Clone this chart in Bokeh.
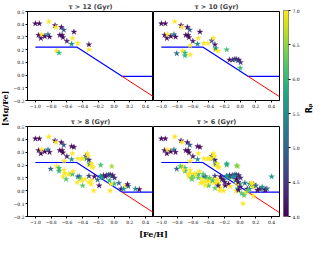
import numpy as np
from bokeh.plotting import figure
from bokeh.layouts import row, column
from bokeh.models import (ColumnDataSource, FixedTicker, CustomJSTickFormatter, Range1d,
                          LinearColorMapper)
from bokeh.palettes import Viridis256
from bokeh.transform import linear_cmap
from bokeh.embed import file_html
from bokeh.resources import INLINE
from bokeh.core.properties import value

# ---------------- data ----------------
# stars with age > 12 Gyr
feh_12 = [-1.00, -0.95, -0.96, -0.93, -0.92, -0.88, -0.84, -0.82, -0.83, -0.75, -0.74, -0.67, -0.64,
          -0.69, -0.66, -0.65, -0.60, -0.51, -0.53, -0.54, -0.46, -0.32, -0.32, -0.73, -0.70]
mg_12 = [0.405, 0.405, 0.314, 0.29, 0.32, 0.305, 0.32, 0.30, 0.42, 0.39, 0.376, 0.376, 0.356,
         0.314, 0.314, 0.296, 0.267, 0.34, 0.29, 0.244, 0.25, 0.24, 0.20, 0.19, 0.175]
rp_12 = [4.1, 4.1, 4.1, 4.1, 7.0, 4.1, 5.3, 4.1, 7.0, 4.1, 7.0, 4.1, 4.9,
         4.1, 4.1, 4.1, 4.2, 4.1, 7.0, 5.5, 7.0, 4.2, 7.0, 7.0, 6.0]

# stars with 10 < age <= 12 Gyr
feh_10 = [-0.635, -0.41, -0.36, -0.34, -0.31, -0.28, -0.17, -0.805, -0.70, -0.635, -0.135, -0.095,
          -0.07, -0.05, -0.03, -0.017, 0.006, 0.0]
mg_10 = [0.232, 0.25, 0.27, 0.29, 0.21, 0.19, 0.20, 0.17, 0.153, 0.16, 0.12, 0.12,
         0.125, 0.125, 0.113, 0.12, 0.10, 0.055]
rp_10 = [7.0, 7.0, 4.7, 7.0, 5.4, 7.0, 6.1, 5.0, 6.0, 7.0, 4.2, 4.3,
         5.0, 4.2, 5.5, 4.3, 4.4, 6.0]

# stars with 8 < age <= 10 Gyr
feh_8 = [-0.54, -0.65, -0.63, -0.61, -0.58, -0.56, -0.53, -0.46, -0.44, -0.43, -0.47, -0.41, -0.40,
         -0.37, -0.32, -0.29, -0.29, -0.26, -0.32, -0.25, -0.21, -0.19, -0.17, -0.15, -0.11, -0.04,
         -0.05, -0.03, 0.06, 0.09, 0.12, 0.15, 0.18, 0.17, 0.27, 0.32, -0.35, -0.33, -0.40, -0.29,
         -0.27, -0.06, -0.52]
mg_8 = [0.345, 0.11, 0.135, 0.09, 0.13, 0.13, 0.13, 0.11, 0.11, 0.095, 0.065, 0.08, 0.04,
        0.09, 0.065, 0.08, 0.05, 0.0, 0.115, 0.11, 0.085, 0.04, 0.115, 0.10, 0.11, 0.053,
        0.0, 0.19, 0.06, 0.015, 0.015, 0.04, 0.035, 0.05, 0.015, 0.01, 0.25, 0.27, 0.25, 0.21,
        0.18, 0.08, 0.15]
rp_8 = [4.1, 7.0, 7.0, 6.2, 7.0, 7.0, 6.0, 5.0, 5.0, 6.2, 7.0, 7.0, 6.2,
        7.0, 7.0, 7.0, 7.0, 7.0, 4.6, 4.1, 5.0, 4.1, 5.5, 5.6, 4.2, 7.0,
        7.0, 6.6, 5.0, 4.2, 5.5, 7.0, 5.2, 4.1, 5.5, 4.1, 5.2, 7.0, 7.0, 7.0,
        7.0, 6.0, 7.0]

# stars with 6 < age <= 8 Gyr
feh_6 = [0.40, 0.037, -0.045, -0.17, -0.76, -0.72, -0.59, -0.57, -0.53, -0.49, -0.47, -0.43, -0.39,
         -0.37, -0.35, -0.30, -0.27, -0.25, -0.28, -0.23, -0.195, -0.17, -0.146, -0.126, -0.10,
         -0.065, -0.045, -0.024, -0.03, -0.02, 0.0, 0.02, 0.05, 0.08, 0.12, 0.14, 0.16, 0.18, 0.20,
         0.22, 0.25, 0.28, 0.32, 0.34, 0.17, -0.37, -0.33, -0.66, -0.62, -0.50, -0.44, -0.32,
         -0.21, 0.10]
mg_6 = [0.11, -0.10, 0.195, 0.21, 0.19, 0.165, 0.115, 0.125, 0.10, 0.09, 0.13, 0.07, 0.10,
        0.066, 0.08, 0.09, 0.06, 0.024, 0.04, 0.09, 0.066, 0.115, 0.053, 0.033, 0.11,
        0.115, 0.09, 0.066, 0.016, 0.005, 0.03, -0.02, -0.035, -0.01, 0.053, 0.06, 0.053, 0.03, 0.04,
        0.004, 0.015, 0.03, 0.004, 0.016, -0.04, 0.25, 0.27, 0.13, 0.10, 0.06, 0.04, 0.02,
        0.0, 0.0]
rp_6 = [5.6, 7.0, 6.4, 5.8, 6.2, 7.0, 6.2, 7.0, 6.2, 7.0, 6.2, 7.0, 6.2,
        7.0, 6.2, 7.0, 7.0, 7.0, 4.2, 4.1, 4.2, 5.5, 4.1, 7.0, 5.5,
        5.3, 4.1, 4.2, 5.6, 4.1, 4.2, 6.2, 6.2, 7.0, 5.6, 7.0, 7.0, 7.0, 5.0,
        4.1, 4.2, 5.5, 4.1, 5.0, 7.0, 7.0, 7.0, 7.0, 6.4, 7.0, 7.0, 6.3,
        7.0, 6.3]

# model lines
blue_feh = [-1.0, -0.475, 0.1, 0.5]
blue_mg = [0.22, 0.22, -0.01, -0.01]
red_feh = [0.1, 0.5]
red_mg = [-0.01, -0.17]

panel_titles = ["τ > 12 (Gyr)", "τ > 10 (Gyr)", "τ > 8 (Gyr)", "τ > 6 (Gyr)"]
x_ticks = [-1.0, -0.8, -0.6, -0.4, -0.2, 0.0, 0.2, 0.4]
y_ticks = [-0.2, -0.1, 0.0, 0.1, 0.2, 0.3, 0.4, 0.5]
rp_ticks = [4.0, 4.5, 5.0, 5.5, 6.0, 6.5, 7.0]
rp_low, rp_high = 4.0, 7.0
x_label = "[Fe/H]"
y_label = "[Mg/Fe]"
c_label = "Rₚ"

# ---------------- styling helpers ----------------
FMT = "return (tick < -1e-9 ? '\u2212' : '') + Math.abs(tick).toFixed(1);"
TICK_FONT = "DejaVu Serif"
TICK_SIZE = "4.5px"
FRAME_W, FRAME_H = 126, 90


def style_axis(ax, ticks):
    ax.ticker = FixedTicker(ticks=ticks)
    ax.formatter = CustomJSTickFormatter(code=FMT)
    ax.major_label_text_font = TICK_FONT
    ax.major_label_text_font_size = TICK_SIZE
    ax.major_label_text_color = "black"
    ax.major_tick_out = 2
    ax.major_tick_in = 0
    ax.minor_tick_out = 0
    ax.minor_tick_in = 0
    ax.major_label_standoff = 1
    ax.axis_line_color = "black"
    ax.major_tick_line_color = "black"


def panel(title, feh, mg, rp, left, top):
    w = FRAME_W + (18 if left else 1)
    h = FRAME_H + (10 if top else 15) + 11
    p = figure(width=w, height=h, x_range=Range1d(-1.1, 0.5), y_range=Range1d(-0.2, 0.5),
               output_backend="svg", toolbar_location=None,
               y_axis_location="left" if left else None,
               min_border_left=18 if left else 0, min_border_right=0 if left else 1,
               min_border_top=10 if top else 15, min_border_bottom=11)
    p.title.text = title
    p.title.align = "center"
    p.title.text_font = "DejaVu Sans"
    p.title.text_font_size = "6.5px"
    p.title.text_font_style = "bold"
    p.title.standoff = 1
    p.grid.visible = False
    p.outline_line_color = "black"
    p.outline_line_alpha = 1
    style_axis(p.xaxis[0], x_ticks)
    if left:
        style_axis(p.yaxis[0], y_ticks)
    p.line(blue_feh, blue_mg, line_color="blue", line_width=1.2)
    p.line(red_feh, red_mg, line_color="red", line_width=1.0)
    src = ColumnDataSource(dict(x=feh, y=mg, rp=rp))
    cmap = linear_cmap("rp", Viridis256, rp_low, rp_high)
    p.scatter("x", "y", source=src, marker="star", size=6,
              fill_color=cmap, line_color=cmap, line_width=0.3)
    return p


# cumulative samples
f1, m1, r1 = feh_12, mg_12, rp_12
f2, m2, r2 = f1 + feh_10, m1 + mg_10, r1 + rp_10
f3, m3, r3 = f2 + feh_8, m2 + mg_8, r2 + rp_8
f4, m4, r4 = f3 + feh_6, m3 + mg_6, r3 + rp_6

tl = panel(panel_titles[0], f1, m1, r1, True, True)
tr = panel(panel_titles[1], f2, m2, r2, False, True)
bl = panel(panel_titles[2], f3, m3, r3, True, False)
br = panel(panel_titles[3], f4, m4, r4, False, False)

TOTAL_H = 238
grid_w = tl.width + tr.width


def text_fig(w, h, txt, tx, ty, angle, font, size):
    f = figure(width=w, height=h, x_range=Range1d(0, w), y_range=Range1d(0, h),
               output_backend="svg", toolbar_location=None,
               x_axis_location=None, y_axis_location=None,
               min_border_left=0, min_border_right=0, min_border_top=0, min_border_bottom=0)
    f.outline_line_color = None
    f.grid.visible = False
    f.text(x=[tx], y=[ty], text=[txt], angle=angle, text_align="center", text_baseline="middle",
           text_font=value(font), text_font_size=size, text_font_style="bold", text_color="black")
    return f


yl = text_fig(9, TOTAL_H, y_label, 4.5, 125, np.pi / 2, "DejaVu Serif", "8px")
xl = text_fig(grid_w, 11, x_label, tl.width, 5.5, 0, "DejaVu Serif", "8px")

# colorbar (gradient image through a linear colour mapper on the R_p axis)
cb = figure(width=24, height=TOTAL_H, x_range=Range1d(0, 1), y_range=Range1d(rp_low, rp_high),
            output_backend="svg", toolbar_location=None,
            x_axis_location=None, y_axis_location="right",
            min_border_left=3, min_border_right=16, min_border_top=10, min_border_bottom=22)
mapper = LinearColorMapper(palette=Viridis256, low=rp_low, high=rp_high)
gradient = np.linspace(rp_low, rp_high, 256).reshape(256, 1)
cb.image(image=[gradient], x=0, y=rp_low, dw=1, dh=rp_high - rp_low, color_mapper=mapper)
cb.grid.visible = False
cb.outline_line_color = "black"
cb.outline_line_alpha = 0.5
style_axis(cb.yaxis[0], rp_ticks)
cb.yaxis[0].axis_line_color = None
cb.yaxis[0].major_label_standoff = 2

rl = text_fig(9, TOTAL_H, c_label, 4.5, 125, np.pi / 2, "DejaVu Sans", "8px")

layout = row(yl, column(row(tl, tr), row(bl, br), xl), cb, rl)

open("out.html", "w", encoding="utf-8").write(file_html(layout, INLINE, "chart"))
